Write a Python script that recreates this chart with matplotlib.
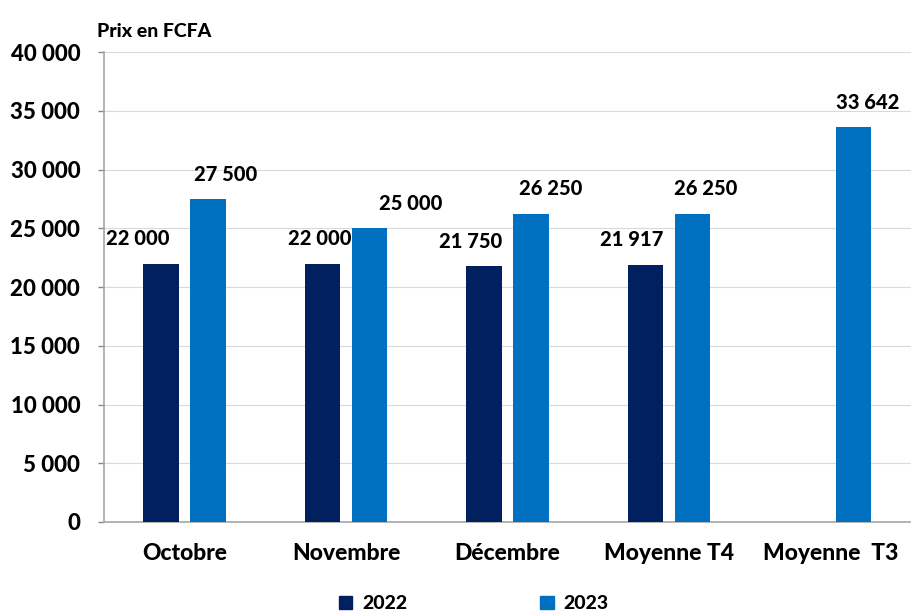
import matplotlib
matplotlib.use("Agg")
import matplotlib.pyplot as plt
from matplotlib.patches import Patch
import numpy as np

plt.rcParams["font.family"] = ["Lato", "DejaVu Sans"]
plt.rcParams["font.weight"] = "black"

categories = ["Octobre", "Novembre", "Décembre", "Moyenne T4", "Moyenne  T3"]
prix_2022 = [22000, 22000, 21750, 21917, np.nan]
prix_2023 = [27500, 25000, 26250, 26250, 33642]
years = ["2022", "2023"]

c_2022 = "#002060"
c_2023 = "#0070C0"

def fmt(v):
    return f"{int(round(v)):,}".replace(",", " ")

# manual label nudges (points) as in the original layout
dx_2022 = [-17, -2, -10, -10, 0]
dx_2023 = [13, 30, 14, 10, 10]

x = np.arange(len(categories))
w = 0.22
off = 0.145
fw = "black"

fig = plt.figure(figsize=(9.11, 6.11), dpi=100)
ax = fig.add_axes([0.114, 0.1457, 0.886, 0.769])

ax.bar(x - off, prix_2022, w, color=c_2022, zorder=3)
ax.bar(x + off, prix_2023, w, color=c_2023, zorder=3)

for i in range(len(categories)):
    if not np.isnan(prix_2022[i]):
        ax.annotate(fmt(prix_2022[i]), (x[i] - off, prix_2022[i]), xytext=(dx_2022[i], 11),
                    textcoords="offset points", ha="center", va="bottom",
                    fontsize=14.5, fontweight=fw)
    ax.annotate(fmt(prix_2023[i]), (x[i] + off, prix_2023[i]), xytext=(dx_2023[i], 11),
                textcoords="offset points", ha="center", va="bottom",
                fontsize=14.5, fontweight=fw)

ax.set_xlim(-0.5, len(categories) - 0.5)
ax.set_ylim(0, 40000)
ax.set_yticks(np.arange(0, 40001, 5000))
ax.set_yticklabels([fmt(v) for v in np.arange(0, 40001, 5000)], fontsize=16, fontweight=fw)
ax.set_xticks(x)
ax.set_xticklabels(categories, fontsize=16.5, fontweight=fw)
ax.tick_params(axis="x", length=0, pad=15)
ax.tick_params(axis="y", length=4, width=1, color="#868686", pad=13)
ax.grid(axis="y", color="#d9d9d9", lw=0.8, zorder=0)
for s in ["top", "right"]:
    ax.spines[s].set_visible(False)
for s in ["left", "bottom"]:
    ax.spines[s].set_color("#a6a6a6")
    ax.spines[s].set_linewidth(1.2)

fig.text(0.106, 0.948, "Prix en FCFA", fontsize=14, fontweight=fw, va="center")

handles = [Patch(color=c_2022), Patch(color=c_2023)]
fig.legend(handles, years, loc="center", bbox_to_anchor=(0.52, 0.012), ncol=2,
           frameon=False, handlelength=0.7, handleheight=0.7,
           handletextpad=0.5, columnspacing=6.85, prop={"weight": fw, "size": 14})

fig.savefig("out.png", dpi=100)
